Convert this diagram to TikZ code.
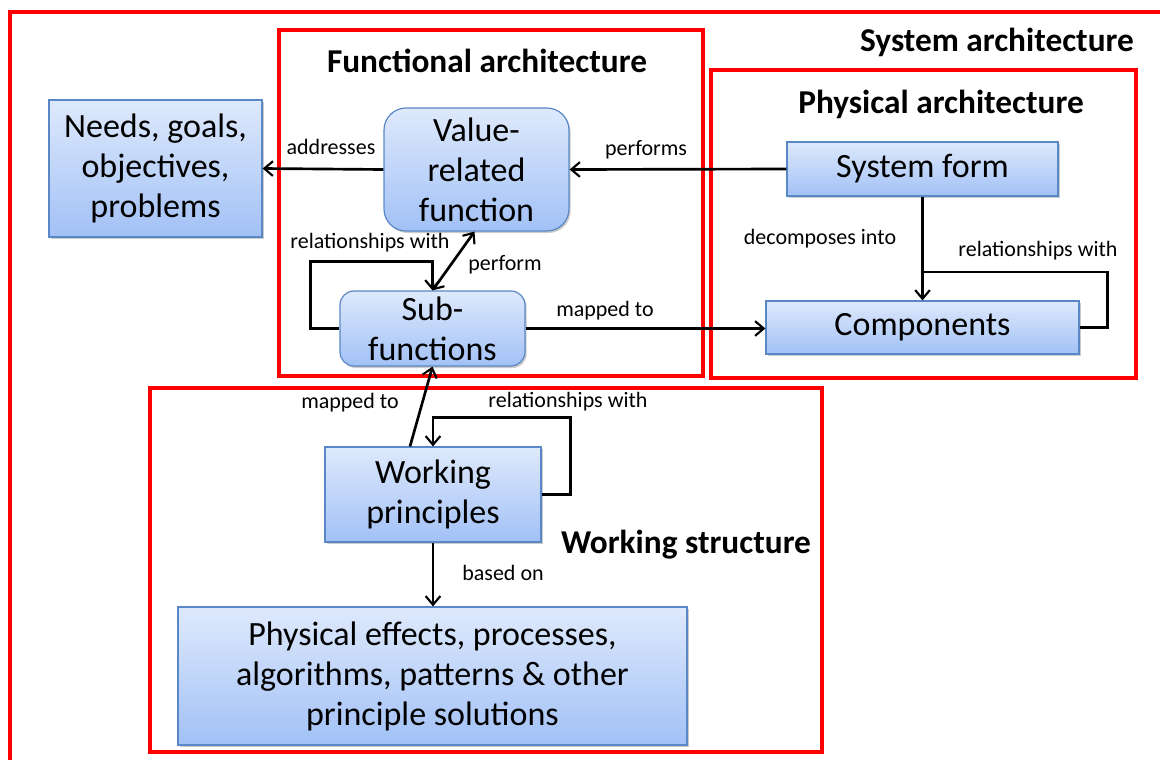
\documentclass[tikz,border=0pt]{standalone}
\usepackage{fontspec}
\setmainfont{Carlito}
\usetikzlibrary{arrows.meta,shadows,calc}

\definecolor{boxtop}{HTML}{DEE9FC}
\definecolor{boxbot}{HTML}{A2C1F6}
\definecolor{boxline}{HTML}{5A87C5}
\definecolor{frame}{HTML}{FF0000}

\tikzset{
  block/.style 2 args={draw=boxline, line width=0.9pt, top color=boxtop, bottom color=boxbot,
    minimum width=#1*0.75pt, minimum height=#2*0.75pt, inner sep=0pt, align=center,
    font=\fontsize{25.5}{30}\selectfont,
    drop shadow={shadow xshift=1.2pt, shadow yshift=-1.5pt, fill=black!45, opacity=0.45}},
  roundblock/.style={rounded corners=#1*0.75pt},
  conn/.style={line width=2pt, draw=black},
  barb/.tip={Straight Barb[length=6.5pt,width=11pt,line width=1.6pt]},
  tip/.style={-barb},
  lbl/.style={font=\fontsize{16.5}{19}\selectfont, inner sep=0pt},
  title/.style={font=\bfseries\fontsize{25}{30}\selectfont, inner sep=0pt},
  region/.style={draw=frame, line width=2.4pt},
}

\begin{document}
\begin{tikzpicture}[x=0.75pt, y=-0.75pt]
\useasboundingbox (0,0) rectangle (1160,760);

% red frames of the architecture groups
\draw[region] (10,760) -- (10,12) -- (1160,12);
\draw[region] (279,30) rectangle (703,376);
\draw[region] (711,70) rectangle (1136,378);
\draw[region] (150,388) rectangle (822,752);

% group titles
\node[title] (tsys)  at (997,42)  {System architecture};
\node[title] (tfun)  at (487,61)  {Functional architecture};
\node[title] (tphy)  at (941,104) {Physical architecture};
\node[title] (twork) at (686,545) {Working structure};

% blocks
\node[block={213}{137}] (needs) at (155.5,168.5) {Needs, goals,\\objectives,\\problems};
\node[block={185}{123}, roundblock=22] (val) at (476.5,169.5) {Value-\\related\\function};
\node[block={271}{54}] (sys) at (922.5,169) {System form};
\node[block={313}{53}] (comp) at (922.5,327.5) {Components};
\node[block={185}{75}, roundblock=14] (sub) at (432.5,328.5) {Sub-\\functions};
\node[block={216}{95}] (wp) at (433,494.5) {Working\\principles};
\node[block={509}{138}] (pe) at (432.5,676) {Physical effects, processes,\\algorithms, patterns \& other\\principle solutions};

% connectors
\draw[conn, tip] (val.west) -- (needs.east);
\node[lbl] (laddr) at (331,147) {addresses};

\draw[conn, tip] (sys.west) -- (val.east);
\node[lbl] (lperf) at (646,150) {performs};

\draw[conn, tip] (sys.south) -- (comp.north);
\node[lbl] (ldec) at (820,239) {decomposes into};

\coordinate (cjoin) at (922.5,272);
\draw[conn] (comp.east) -- ++(28,0) |- (cjoin);
\node[lbl] (lrelc) at (1038,251) {relationships with};

\draw[conn, tip] (sub.east) -- (sub.east -| comp.west);
\node[lbl] (lmapc) at (605,311) {mapped to};

\draw[conn, tip] (sub.west) -- ++(-29,0) |- ($(sub.north)+(0,-29)$) -- (sub.north);
\node[lbl] (lrels) at (370,243) {relationships with};

\draw[conn, barb-barb] (sub.north) -- ($(val.south)+(-2,0)$);
\node[lbl] (lperform) at (505,265) {perform};

\draw[conn, tip] ($(wp.north)+(-23,0)$) -- (sub.south);
\node[lbl] (lmapw) at (350,403) {mapped to};

\draw[conn, tip] (wp.east) -- ++(29,0) |- ($(wp.north)+(0,-29)$) -- (wp.north);
\node[lbl] (lrelw) at (568,402) {relationships with};

\draw[conn, tip] (wp.south) -- (wp.south |- pe.north);
\node[lbl] (lbase) at (503,573) {based on};
\end{tikzpicture}
\end{document}
